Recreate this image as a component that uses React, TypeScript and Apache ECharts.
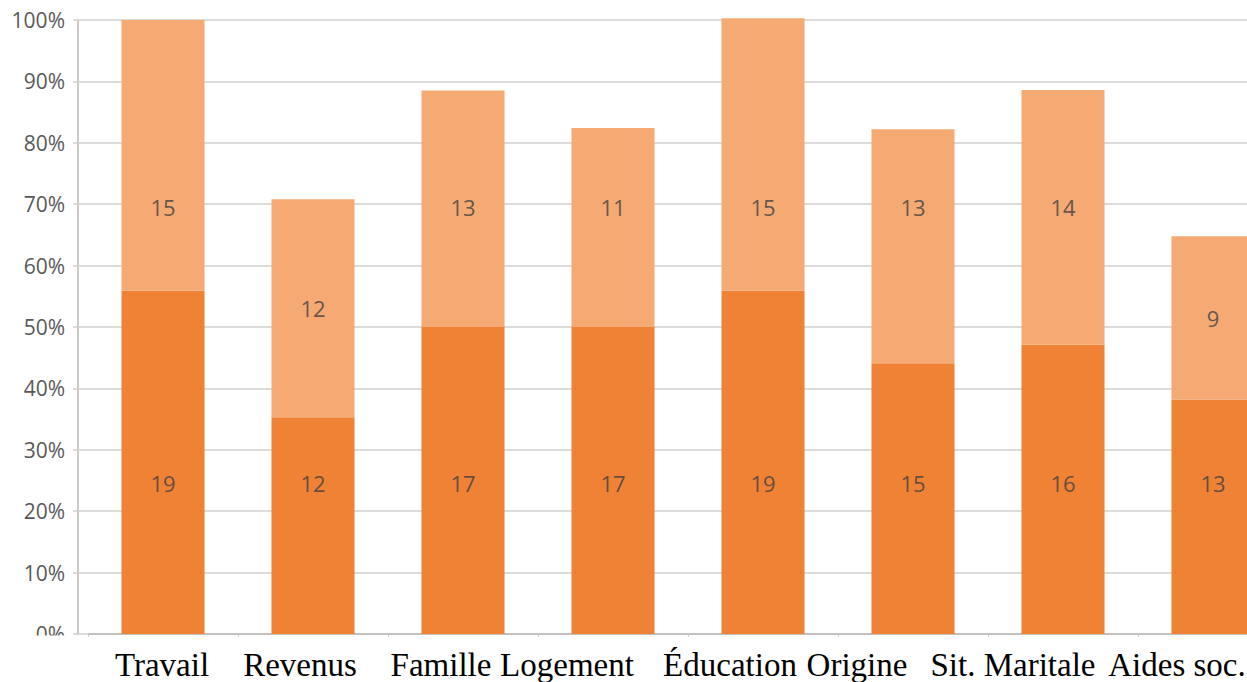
import React, { useEffect, useRef } from "react";
import * as echarts from "echarts";

const categories = ["Travail", "Revenus", "Famille", "Logement", "Éducation", "Origine", "Sit. Maritale", "Aides soc."];
const bottomCounts = [19, 12, 17, 17, 19, 15, 16, 13];
const topCounts = [15, 12, 13, 11, 15, 13, 14, 9];
const bottomPct = [55.9, 35.3, 50.0, 50.0, 55.9, 44.1, 47.1, 38.2];
const topPct = [44.1, 35.5, 38.5, 32.4, 44.4, 38.1, 41.5, 26.6];

const DARK = "#F08236";
const LIGHT = "#F5AA74";
const GRID = "#d2d0ce";
const AXIS = "#bdb8b5";

// layout: horizontal shift (px, to the left) of each x label, label anchor levels
const labelShift = [1, 13, 22, 46, 33, 56, 50, 36];
const bottomLabelLevel = 24.6;
const topLabelLevel = 69.5;

export default function App() {
  const ref = useRef<HTMLDivElement>(null);
  useEffect(() => {
    if (!ref.current) return;
    const chart = echarts.init(ref.current, null, { renderer: "svg" });
    const rich: Record<string, any> = {};
    labelShift.forEach((s, i) => {
      rich["s" + i] = {
        fontFamily: "Liberation Serif",
        fontSize: 33,
        color: "#000",
        padding: [0, 2 * s, 0, 0],
      };
    });
    const topLabelY = topPct.map((t, i) => {
      const total = bottomPct[i] + t;
      return total >= 80 ? topLabelLevel : bottomPct[i] + t / 2;
    });
    const bottomLabelY = bottomPct.map(() => bottomLabelLevel);
    const labelStyle = {
      show: true,
      position: "inside",
      fontFamily: "Open Sans",
      fontSize: 22,
      color: "#404040",
    };
    chart.setOption({
      animation: false,
      grid: { left: 88, top: 20, width: 1200, height: 614, containLabel: false },
      xAxis: {
        type: "category",
        data: categories,
        axisLine: { lineStyle: { color: AXIS, width: 1.5 } },
        axisTick: { show: true, length: 3, lineStyle: { color: GRID } },
        axisLabel: {
          interval: 0,
          margin: 14,
          fontFamily: "Liberation Serif",
          fontSize: 33,
          color: "#000",
          formatter: (v: string, i: number) => `{s${i}|${v}}`,
          rich,
        },
      },
      yAxis: [
        {
          type: "value",
          min: 0,
          max: 100,
          interval: 10,
          offset: 10,
          axisLine: { show: true, lineStyle: { color: AXIS, width: 1.5 } },
          axisTick: { show: true, length: 5, lineStyle: { color: GRID, width: 1.5 } },
          axisLabel: {
            formatter: "{value}%",
            margin: 13,
            fontFamily: "Open Sans",
            fontSize: 21,
            color: "#595959",
          },
          splitLine: { show: true, lineStyle: { color: GRID, width: 1.5 } },
        },
        {
          type: "value",
          min: 0,
          max: 100,
          interval: 10,
          offset: 10,
          position: "left",
          axisLine: { show: false },
          axisTick: { show: true, inside: true, length: 10, lineStyle: { color: GRID, width: 1.5 } },
          axisLabel: { show: false },
          splitLine: { show: false },
        },
      ],
      series: [
        {
          type: "bar",
          stack: "a",
          data: bottomPct,
          barWidth: 83,
          clip: false,
          itemStyle: { color: DARK },
        },
        {
          type: "bar",
          stack: "a",
          data: topPct,
          barWidth: 83,
          clip: false,
          itemStyle: { color: LIGHT },
        },
        {
          type: "scatter",
          data: bottomLabelY,
          symbolSize: 0,
          silent: true,
          z: 5,
          label: { ...labelStyle, formatter: (p: any) => String(bottomCounts[p.dataIndex]) },
        },
        {
          type: "scatter",
          data: topLabelY,
          symbolSize: 0,
          silent: true,
          z: 5,
          label: { ...labelStyle, formatter: (p: any) => String(topCounts[p.dataIndex]) },
        },
      ],
      graphic: [
        {
          type: "rect",
          z: 100,
          shape: { x: 0, y: 635.5, width: 72, height: 18 },
          style: { fill: "#fff" },
        },
      ],
    });
    return () => chart.dispose();
  }, []);
  return (
    <div
      style={{
        position: "absolute",
        left: 0,
        top: 0,
        width: 1247,
        height: 682,
        overflow: "hidden",
        background: "#fff",
      }}
    >
      <div ref={ref} style={{ width: 1300, height: 682 }} />
    </div>
  );
}
